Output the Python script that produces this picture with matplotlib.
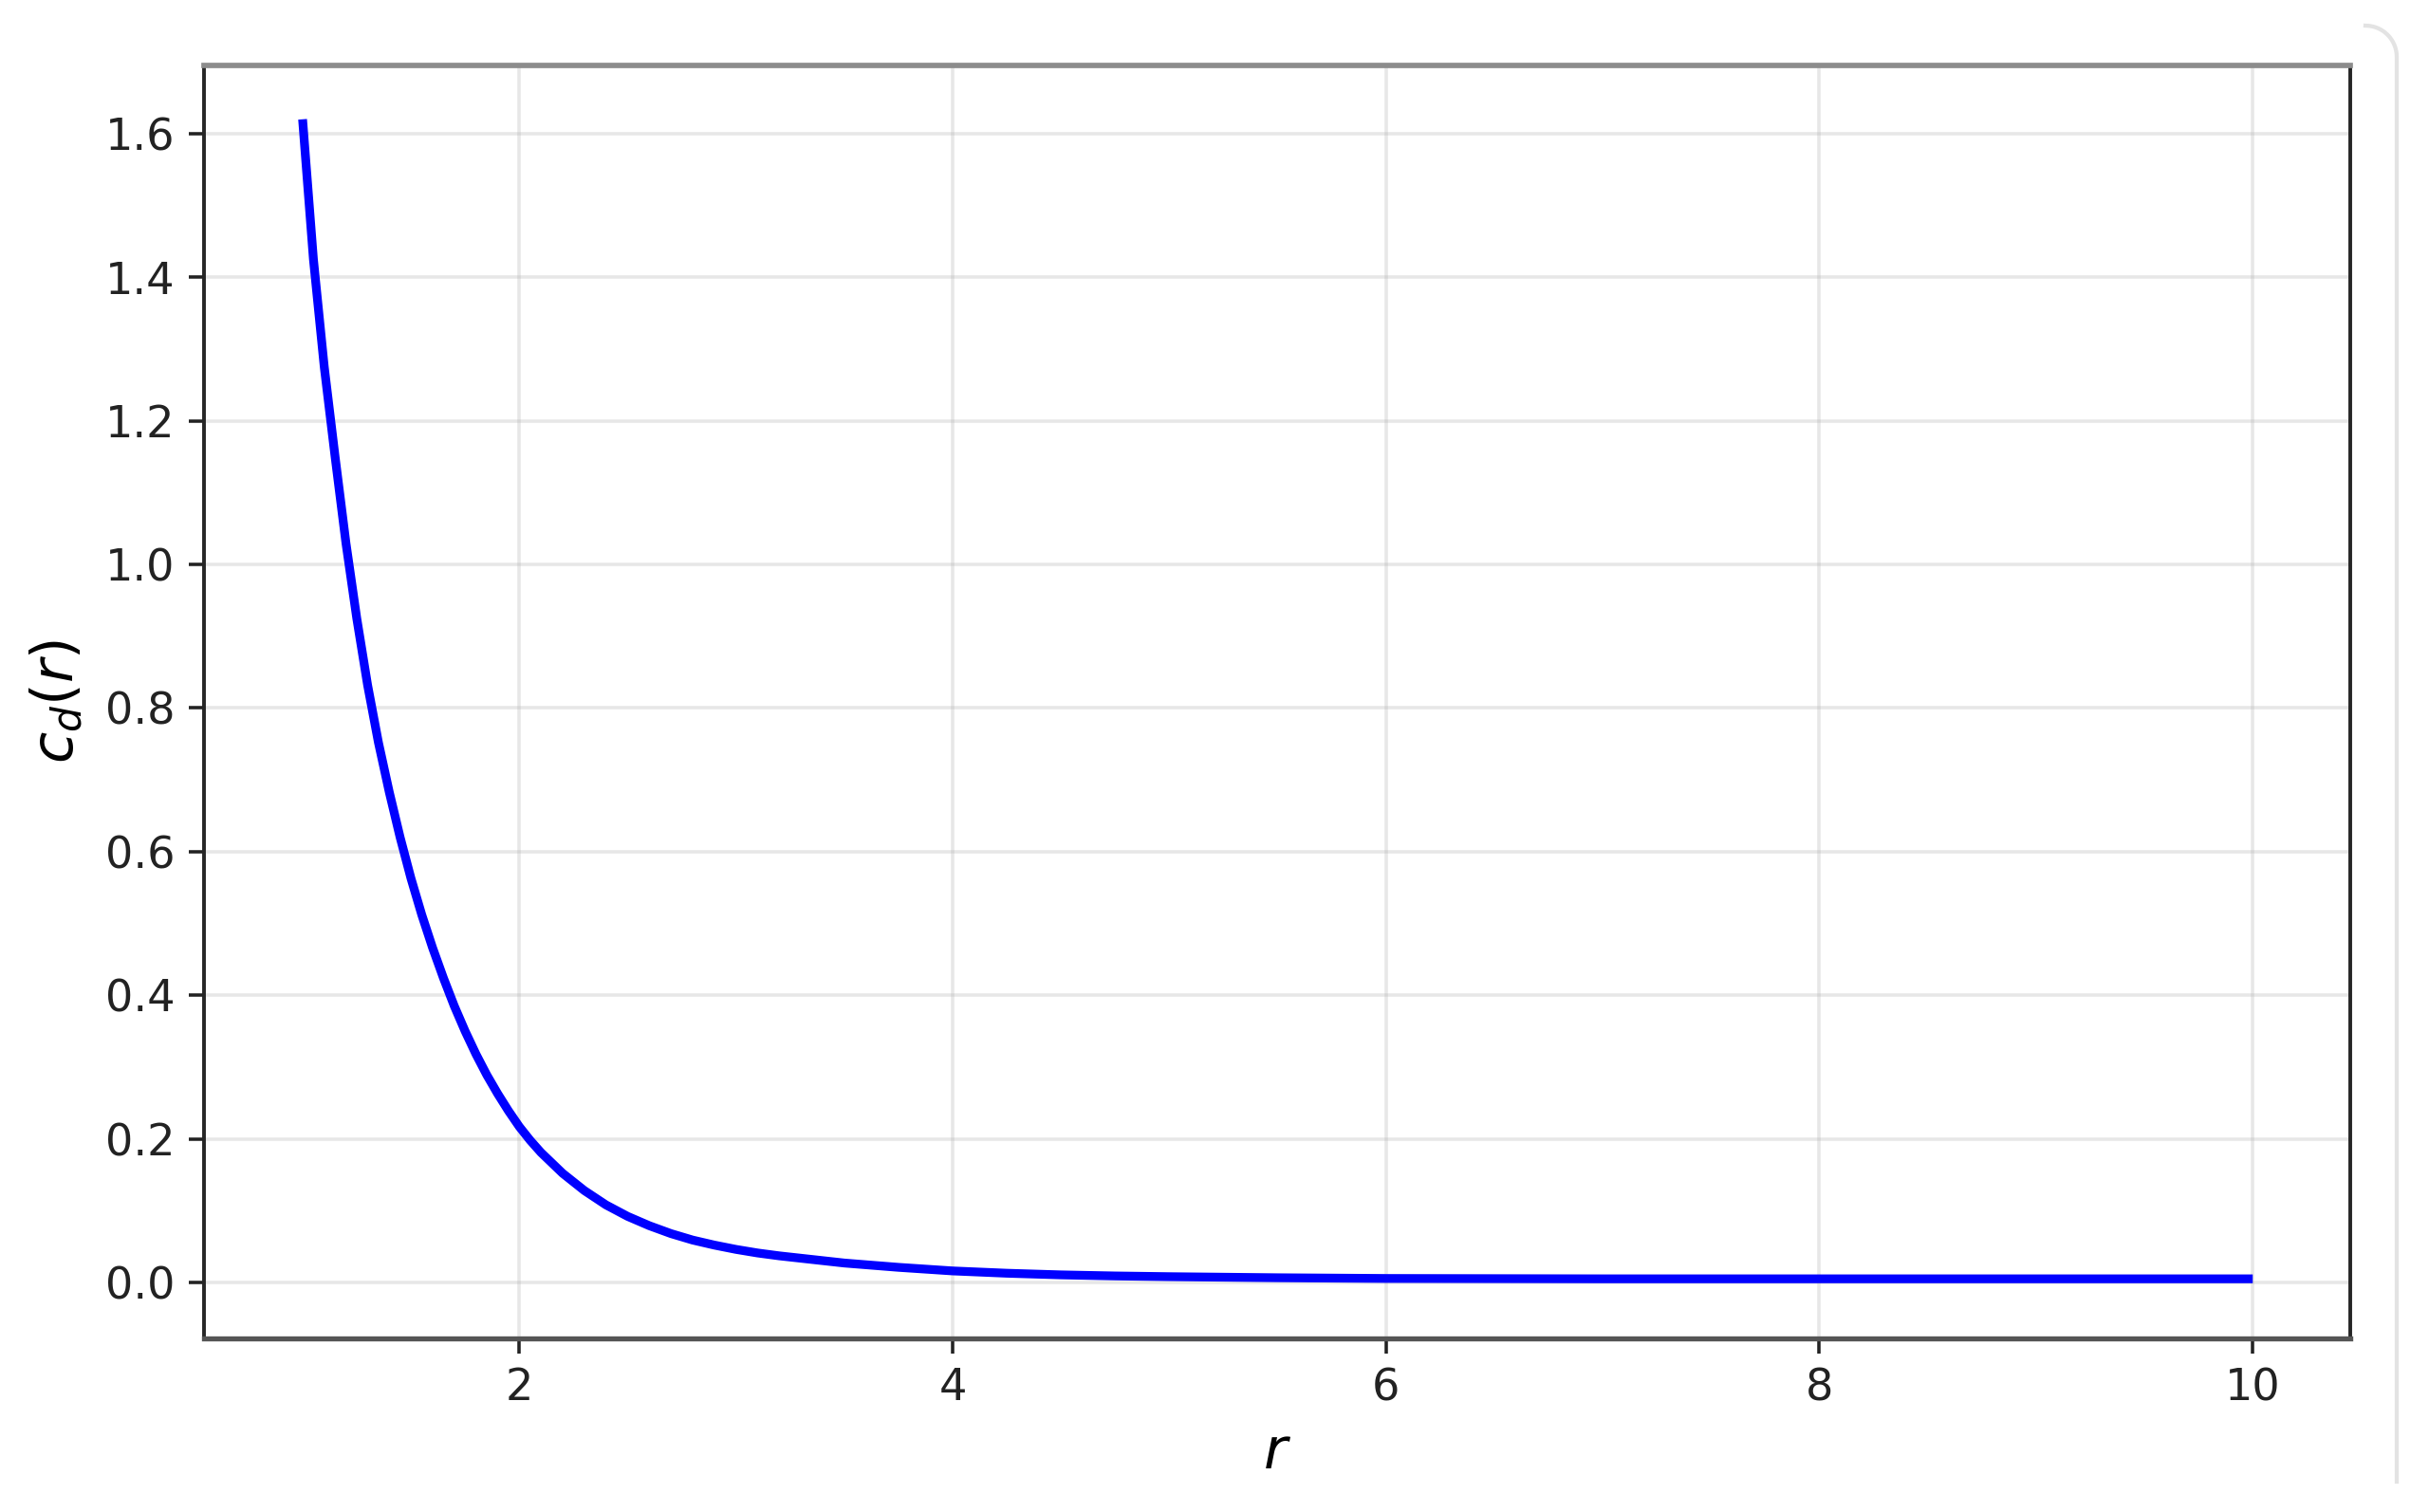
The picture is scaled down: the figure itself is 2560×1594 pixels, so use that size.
import matplotlib
matplotlib.use("Agg")
import matplotlib.pyplot as plt
from matplotlib.lines import Line2D
import numpy as np

# Values
r_values = [1.00, 1.05, 1.10, 1.15, 1.20, 1.25, 1.30, 1.35, 1.40, 1.45,
            1.50, 1.55, 1.60, 1.65, 1.70, 1.75, 1.80, 1.85, 1.90, 1.95,
            2.00, 2.05, 2.10, 2.20, 2.30, 2.40, 2.50, 2.60, 2.70, 2.80,
            2.90, 3.00, 3.10, 3.20, 3.35, 3.50, 3.75, 4.00, 4.25, 4.50,
            4.75, 5.00, 5.50, 6.00, 7.00, 8.00, 9.00, 10.00]
c_values = [1.62, 1.425, 1.275, 1.15, 1.03, 0.925, 0.832, 0.752, 0.683, 0.620,
            0.563, 0.512, 0.466, 0.424, 0.385, 0.350, 0.318, 0.289, 0.263, 0.239,
            0.217, 0.198, 0.181, 0.152, 0.128, 0.108, 0.092, 0.079, 0.068, 0.059,
            0.052, 0.046, 0.041, 0.037, 0.032, 0.027, 0.021, 0.016, 0.0128, 0.0105,
            0.009, 0.008, 0.0065, 0.0055, 0.005, 0.005, 0.005, 0.005]
x_ticks = [2, 4, 6, 8, 10]
y_ticks = [0.0, 0.2, 0.4, 0.6, 0.8, 1.0, 1.2, 1.4, 1.6]

W, H = 2560, 1594
fig = plt.figure(figsize=(W / 256, H / 256), dpi=256)
ax = fig.add_axes([215 / W, 1 - 1411 / H, (2477 - 215) / W, (1411 - 69) / H])

ax.plot(r_values, c_values, color="#0000ff", linewidth=2.6, solid_capstyle="butt",
        solid_joinstyle="round")

ax.set_xticks(x_ticks)
ax.set_yticks(y_ticks)
ax.set_xlim(0.545, 10.45)
ax.set_ylim(-0.078, 1.695)
ax.grid(True, color="#b0b0b0", alpha=0.3, linewidth=1.0)
ax.set_axisbelow(True)

ax.tick_params(axis="both", labelsize=13, length=4.5, width=1.0, pad=4,
               colors="#222222", labelcolor="#222222")

for side in ["left", "right"]:
    ax.spines[side].set_color("#262626")
    ax.spines[side].set_linewidth(1.1)
ax.spines["top"].set_color("#8c8c8c")
ax.spines["top"].set_linewidth(1.6)
ax.spines["bottom"].set_color("#555555")
ax.spines["bottom"].set_linewidth(1.5)

ax.set_xlabel(r"$r$", fontsize=17)
ax.set_ylabel(r"$c_d(r)$", fontsize=17)
ax.xaxis.set_label_coords(0.5, -0.068)
ax.yaxis.set_label_coords(-0.055, 0.5)

# decorative card border at the right edge of the screenshot
t = np.linspace(0, np.pi / 2, 20)
cx, cy, rad = 2493, 60, 33
arc_x = list(cx + rad * np.sin(t)) + [2526]
arc_y = list(cy - rad * np.cos(t)) + [1562]
fig.add_artist(Line2D([x / W for x in arc_x], [1 - y / H for y in arc_y],
                      transform=fig.transFigure, color="#e3e3e3", linewidth=1.2))

fig.savefig("out.png", dpi=256, facecolor="white")
